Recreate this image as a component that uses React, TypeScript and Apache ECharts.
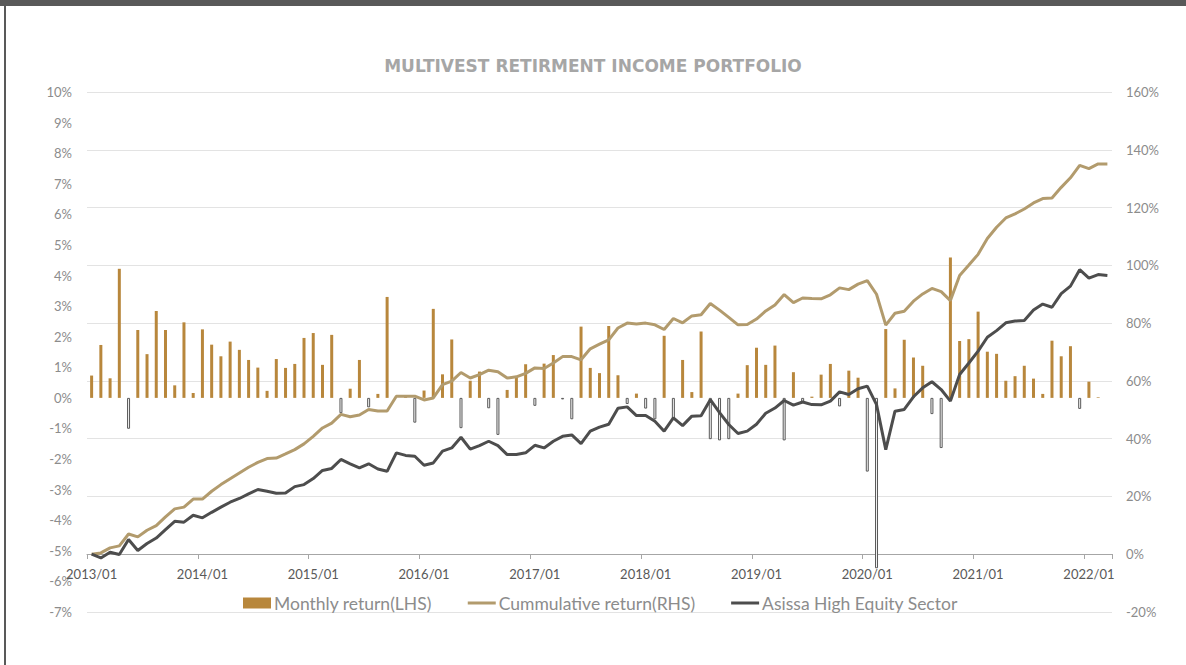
import React, { useEffect, useRef } from "react";
import * as echarts from "echarts";

const startYear = 2013;
const monthCount = 111;
const categories: string[] = [];
for (let i = 0; i < monthCount; i++) {
  const y = startYear + Math.floor(i / 12);
  const m = (i % 12) + 1;
  categories.push(`${y}/${m < 10 ? "0" + m : m}`);
}

const monthlyReturn: (number | null)[] = [
  0.73, 1.73, 0.64, 4.22, -1.01, 2.22, 1.43, 2.84, 2.22, 0.41, 2.47, 0.16,
  2.24, 1.74, 1.36, 1.84, 1.57, 1.24, 0.99, 0.23, 1.27, 0.98, 1.11, 1.96,
  2.12, 1.08, 2.06, -0.5, 0.3, 1.24, -0.31, 0.13, 3.3, 0.0, 0.04, -0.81,
  0.24, 2.91, 0.77, 1.91, -0.99, 0.56, 0.86, -0.34, -1.21, 0.26, 0.7, 1.1,
  -0.26, 1.12, 1.4, -0.05, -0.7, 2.33, 0.98, 0.81, 2.35, 0.74, -0.2, 0.14,
  -0.35, -0.7, 2.03, -0.68, 1.24, 0.19, 2.17, -1.35, -1.39, -1.35, 0.14, 1.07,
  1.64, 1.08, 1.71, -1.39, 0.84, -0.17, 0.04, 0.76, 1.11, -0.28, 0.89, 0.66,
  -2.41, -5.57, 2.25, 0.31, 1.9, 1.32, 1.05, -0.53, -1.64, 4.59, 1.86, 1.92,
  2.82, 1.51, 1.44, 0.56, 0.71, 1.05, 0.63, 0.13, 1.87, 1.36, 1.69, -0.36,
  0.53, 0.02, null,
];

const cumulativeReturn: number[] = [
  0, 0.45, 2.2, 2.9, 7.0, 6.0, 8.3, 9.9, 12.9, 15.7, 16.3, 19.1,
  19.1, 21.8, 24.1, 26.1, 28.1, 30.1, 31.8, 33.1, 33.3, 34.7, 36.2, 38.2,
  40.8, 43.7, 45.4, 48.4, 47.6, 48.2, 50.1, 49.6, 49.6, 54.7, 54.7, 54.7,
  53.4, 54.1, 58.7, 59.9, 62.9, 61.0, 62.2, 63.7, 63.2, 61.0, 61.4, 62.6,
  64.5, 64.3, 66.2, 68.4, 68.4, 67.3, 71.1, 72.7, 74.2, 78.3, 80.0, 79.7,
  80.0, 79.4, 77.8, 81.6, 80.1, 82.5, 82.9, 86.8, 84.5, 82.0, 79.4, 79.5,
  81.4, 84.2, 86.3, 89.9, 87.1, 88.7, 88.5, 88.4, 89.8, 92.2, 91.6, 93.5,
  94.7, 90.0, 79.3, 83.4, 84.1, 87.6, 90.1, 92.0, 90.9, 87.8, 96.5, 100.1,
  103.8, 109.3, 113.2, 116.4, 117.8, 119.5, 121.6, 123.1, 123.3, 127.0, 130.3, 134.6,
  133.5, 135.1, 135.1,
];

const asisaHighEquity: number[] = [
  0, -1.3, 0.7, -0.1, 5.1, 1.3, 3.7, 5.6, 8.5, 11.4, 11.1, 13.5,
  12.6, 14.5, 16.3, 18.0, 19.3, 20.9, 22.4, 21.8, 21.1, 21.2, 23.4, 24.1,
  26.2, 29.0, 29.7, 32.8, 31.3, 29.9, 31.3, 29.5, 28.7, 35.1, 34.2, 33.9,
  30.8, 31.6, 35.7, 36.8, 40.5, 36.4, 37.6, 39.1, 37.6, 34.5, 34.5, 35.1,
  37.7, 36.8, 39.1, 40.8, 41.3, 38.3, 42.6, 44.0, 45.0, 50.5, 51.0, 48.0,
  48.0, 46.0, 42.6, 47.2, 44.5, 47.8, 47.9, 53.5, 49.0, 44.9, 41.8, 42.6,
  45.0, 48.8, 50.6, 53.2, 51.6, 52.7, 51.8, 51.7, 53.0, 56.2, 55.3, 57.3,
  58.2, 51.8, 36.2, 49.5, 50.1, 54.5, 57.6, 59.7, 57.0, 53.0, 62.2, 66.2,
  70.3, 75.1, 77.4, 80.1, 80.7, 80.9, 84.5, 86.6, 85.5, 90.2, 92.8, 98.5,
  95.6, 96.8, 96.5,
];

const seriesNames = [
  "Monthly return(LHS)",
  "Cummulative return(RHS)",
  "Asissa High Equity Sector",
];

const BAR_GOLD = "#B8873C";
const LINE_GOLD = "#B29B6D";
const LINE_DARK = "#4D4D4D";
const FONT = "Lato, 'Open Sans', sans-serif";
const LINE_ICON = "path://M0,4 L28,4 L28,7 L0,7 Z";

export default function App() {
  const ref = useRef<HTMLDivElement>(null);
  useEffect(() => {
    if (!ref.current) return;
    const chart = echarts.init(ref.current, undefined, { renderer: "svg" });
    const barData = monthlyReturn.map((v) =>
      v !== null && v < 0
        ? {
            value: v,
            itemStyle: { color: "#F4F4F4", borderColor: "#595959", borderWidth: 1 },
          }
        : { value: v, itemStyle: { color: BAR_GOLD } }
    );
    chart.setOption({
      animation: false,
      backgroundColor: "#ffffff",
      textStyle: { fontFamily: FONT },
      title: {
        text: "MULTIVEST RETIRMENT INCOME PORTFOLIO",
        left: "center",
        top: 52,
        textStyle: {
          fontFamily: "'DejaVu Sans', sans-serif",
          fontSize: 17,
          fontWeight: "bold",
          color: "#A6A6A6",
        },
      },
      graphic: [
        { type: "rect", shape: { x: 0, y: 0, width: 1186, height: 6 }, style: { fill: "#595959" }, silent: true },
        { type: "rect", shape: { x: 4, y: 0, width: 2, height: 665 }, style: { fill: "#595959" }, silent: true },
      ],
      legend: {
        left: 238,
        top: 589,
        itemWidth: 28,
        itemHeight: 11,
        itemGap: 36,
        symbolKeepAspect: true,
        textStyle: { color: "#8C8C8C", fontSize: 17.5, fontFamily: FONT, padding: [0, 0, 0, -2] },
        data: [
          { name: seriesNames[0], icon: "rect", itemStyle: { color: BAR_GOLD, borderWidth: 0 } },
          { name: seriesNames[1], icon: LINE_ICON, itemStyle: { color: LINE_GOLD, borderWidth: 0 } },
          { name: seriesNames[2], icon: LINE_ICON, itemStyle: { color: LINE_DARK, borderWidth: 0 } },
        ],
      },
      grid: { left: 87, right: 74, top: 92, bottom: 53, containLabel: false },
      xAxis: {
        type: "category",
        data: categories,
        boundaryGap: true,
        position: "bottom",
        offset: -58,
        axisLine: {
          onZero: false,
          lineStyle: { color: "#A6A6A6", width: 1 },
        },
        axisTick: { show: true, interval: 11, length: 5, lineStyle: { color: "#A6A6A6" } },
        axisLabel: {
          interval: 11,
          color: "#595959",
          fontSize: 13,
          margin: 13,
          fontFamily: FONT,
        },
        splitLine: { show: false },
      },
      yAxis: [
        {
          type: "value",
          min: -7,
          max: 10,
          interval: 1,
          position: "left",
          axisLine: { show: false },
          axisTick: { show: false },
          splitLine: { show: false },
          axisLabel: { formatter: "{value}%", color: "#8C8C8C", fontSize: 13, margin: 15, fontFamily: FONT },
        },
        {
          type: "value",
          min: -20,
          max: 160,
          interval: 20,
          position: "right",
          axisLine: { show: false },
          axisTick: { show: false },
          splitLine: { show: true, lineStyle: { color: "#E3E3E3", width: 1 } },
          axisLabel: { formatter: "{value}%", color: "#8C8C8C", fontSize: 13, margin: 14, fontFamily: FONT },
        },
      ],
      series: [
        {
          name: seriesNames[0],
          type: "bar",
          yAxisIndex: 0,
          barWidth: 3,
          data: barData,
          itemStyle: { color: BAR_GOLD },
          z: 2,
        },
        {
          name: seriesNames[1],
          type: "line",
          yAxisIndex: 1,
          data: cumulativeReturn,
          symbol: "none",
          color: LINE_GOLD,
          lineStyle: { color: LINE_GOLD, width: 3 },
          z: 3,
        },
        {
          name: seriesNames[2],
          type: "line",
          yAxisIndex: 1,
          data: asisaHighEquity,
          symbol: "none",
          color: LINE_DARK,
          lineStyle: { color: LINE_DARK, width: 3 },
          z: 4,
        },
      ],
    });
    return () => chart.dispose();
  }, []);
  return (
    <div
      ref={ref}
      style={{ position: "fixed", left: 0, top: 0, width: 1186, height: 665, background: "#fff" }}
    />
  );
}
